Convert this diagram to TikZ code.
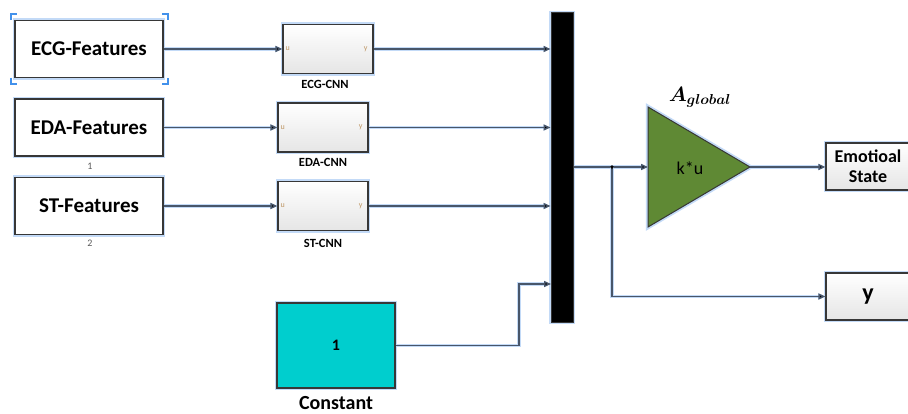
\documentclass[tikz,border=0pt]{standalone}
\usepackage{fontspec}
\setmainfont{Carlito}
\usepackage{bm}
\usetikzlibrary{arrows.meta}
\definecolor{glow}{RGB}{195,218,247}
\definecolor{wirec}{RGB}{72,86,106}
\definecolor{edgec}{RGB}{55,55,55}
\definecolor{gaingreen}{RGB}{95,137,52}
\definecolor{constcyan}{RGB}{0,206,206}
\definecolor{selblue}{RGB}{66,145,235}
\definecolor{portc}{RGB}{190,150,100}
\tikzset{
  halo/.style={preaction={draw=glow,line width=4.5pt}},
  featbox/.style={draw=edgec, line width=1.2pt, fill=white, halo, minimum width=148pt, minimum height=57pt, font=\fontsize{21}{24}\selectfont\bfseries},
  cnnbox/.style={draw=edgec, line width=1.2pt, top color=white, bottom color=gray!20, halo, minimum width=90pt, minimum height=49pt},
  outbox/.style={draw=edgec, line width=1.2pt, top color=white, bottom color=gray!20, halo, minimum width=84pt, minimum height=47pt, font=\fontsize{18}{21}\selectfont\bfseries, align=center},
  cnnlabel/.style={font=\fontsize{12.5}{14}\selectfont\bfseries},
  numlabel/.style={font=\fontsize{10}{11}\selectfont, text=gray!70!black},
  portlabel/.style={font=\fontsize{8}{8}\selectfont, text=portc, inner sep=0pt},
  wire/.style={draw=wirec, line width=1.4pt, preaction={draw=glow,line width=3.5pt}},
  arr/.style={-{Triangle[length=7pt,width=6pt,fill=black]}},
  bracket/.style={draw=selblue, line width=1.6pt},
}
\begin{document}
\begin{tikzpicture}[x=1pt,y=-1pt]
\useasboundingbox (0,0) rectangle (908,414);
\clip (0,0) rectangle (908,414);

% selection brackets around ECG-Features
\draw[bracket] (11,20) -- (11,14) -- (17,14);
\draw[bracket] (162,14) -- (168,14) -- (168,20);
\draw[bracket] (11,78) -- (11,84) -- (17,84);
\draw[bracket] (162,84) -- (168,84) -- (168,78);

% feature source blocks
\node[featbox] (ecgf) at (89,49) {ECG-Features};
\node[featbox] (edaf) at (89,127.5) {EDA-Features};
\node[featbox] (stf) at (89,206) {ST-Features};
\node[numlabel] (n1) at (90,166) {1};
\node[numlabel] (n2) at (90,243) {2};

% CNN subsystems
\node[cnnbox] (ecgc) at (328,49) {};
\node[cnnbox] (edac) at (323,127.5) {};
\node[cnnbox] (stc) at (323,206) {};
\foreach \c in {ecgc,edac,stc}{
  \node[portlabel, anchor=west] (\c u) at ([xshift=3pt]\c.west) {u};
  \node[portlabel, anchor=east] (\c y) at ([xshift=-6pt]\c.east) {y};
}
\node[cnnlabel] (ecgl) at (325,84) {ECG-CNN};
\node[cnnlabel] (edal) at (323,162) {EDA-CNN};
\node[cnnlabel] (stl) at (323,243) {ST-CNN};

% constant
\node[draw=edgec, line width=1.2pt, fill=constcyan, halo, minimum width=118pt, minimum height=85pt,
      font=\fontsize{16}{18}\selectfont\bfseries] (const) at (336,345.5) {1};
\node[font=\fontsize{20}{22}\selectfont\bfseries, inner sep=0pt] (constl) at (336,403) {Constant};

% mux bar
\node[draw=edgec, line width=1pt, fill=black, halo, minimum width=22pt, minimum height=309pt, inner sep=0pt] (mux) at (562,167.5) {};

% gain
\coordinate (gin) at (648,167);
\coordinate (gout) at (750,167);
\draw[draw=edgec, line width=1pt, fill=gaingreen, halo] (648,107) -- (gout) -- (648,227) -- cycle;
\node[font=\fontsize{18}{20}\selectfont] (gain) at (690,168) {k*u};
\node[font=\fontsize{22}{24}\selectfont] (aglob) at (700,97) {$\bm{A_{global}}$};

% outputs
\node[outbox] (emo) at (868,166.5) {Emotioal\\[-1pt]State};
\node[outbox, font=\fontsize{24}{26}\selectfont\bfseries] (yout) at (868,296.5) {y};

% connectors
\draw[wire, arr] (ecgf.east) -- (ecgc.west);
\draw[wire, arr] (edaf.east) -- (edac.west);
\draw[wire, arr] (stf.east) -- (stc.west);
\draw[wire, arr] (ecgc.east) -- (mux.west |- ecgc.east);
\draw[wire, arr] (edac.east) -- (mux.west |- edac.east);
\draw[wire, arr] (stc.east) -- (mux.west |- stc.east);
\coordinate (cbend) at (519,345.5);
\coordinate (cin) at (551,284);
\draw[wire, arr] (const.east) -- (cbend) |- (cin);

\coordinate (junc) at (612,167);
\draw[wire] (mux.east |- junc) -- (junc);
\draw[wire, arr] (junc) -- (gin);
\draw[wire, arr] (junc) |- (yout.west);
\fill[black] (junc) circle (1.8pt);
\draw[wire, arr] (gout) -- (emo.west |- gout);
\end{tikzpicture}
\end{document}
